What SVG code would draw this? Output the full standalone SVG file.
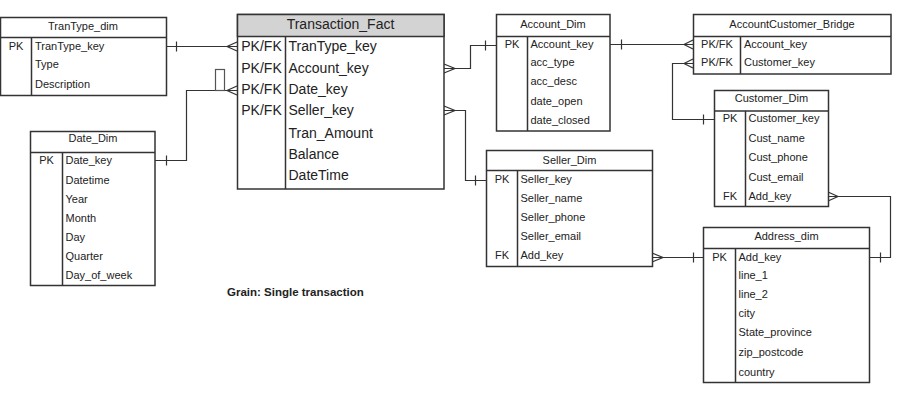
<svg xmlns="http://www.w3.org/2000/svg" width="898" height="403" viewBox="0 0 898 403">
<defs>
<style>
.box{fill:#fff;stroke:#333;stroke-width:1.5}
.hdr{fill:#d3d3d3;stroke:#333;stroke-width:1.5}
.ln{stroke:#333;stroke-width:1.5;fill:none}
.c{stroke:#333;stroke-width:1.2;fill:none}
.t{font-family:"Liberation Sans",Arial,sans-serif;font-size:11px;fill:#222}
.tb{font-family:"Liberation Sans",Arial,sans-serif;font-size:14px;fill:#222}
.m{text-anchor:middle}
.g{font-family:"Liberation Sans",Arial,sans-serif;font-size:11.5px;font-weight:bold;fill:#222}
</style>
</defs>
<rect width="898" height="403" fill="#fff"/>

<g id="connectors">
  <!-- TranType -> Fact -->
  <path class="c" d="M166 46.5 H237"/>
  <path class="c" d="M176.5 41.5 V51.5"/>
  <path class="c" d="M237 42 L227 46.5 L237 51"/>
  <!-- Date -> Fact -->
  <path class="c" d="M155 160.5 H186.5 V90.5 H237"/>
  <path class="c" d="M166.5 155.5 V165.5"/>
  <path class="c" d="M237 86 L227 90.5 L237 95"/>
  <rect x="215.5" y="69.5" width="9" height="21" fill="none" stroke="#555" stroke-width="1.2"/>
  <!-- Fact -> Account_Dim -->
  <path class="c" d="M444 68.5 H470.5 V45.5 H497"/>
  <path class="c" d="M444 64 L455 68.5 L444 73"/>
  <path class="c" d="M485.5 40.5 V50.5"/>
  <!-- Fact -> Seller_Dim -->
  <path class="c" d="M444 110.5 H465.5 V180.5 H486"/>
  <path class="c" d="M444 106 L455 110.5 L444 115"/>
  <path class="c" d="M475.5 175.5 V185.5"/>
  <!-- Account_Dim -> Bridge -->
  <path class="c" d="M610 44.5 H693"/>
  <path class="c" d="M621.5 39.5 V49.5"/>
  <path class="c" d="M693 40 L684 44.5 L693 49"/>
  <!-- Customer_Dim -> Bridge -->
  <path class="c" d="M714 119.5 H672.5 V63.5 H693"/>
  <path class="c" d="M703.5 114.5 V124.5"/>
  <path class="c" d="M693 59 L684 63.5 L693 68"/>
  <!-- Customer_Dim -> Address_dim -->
  <path class="c" d="M828 196.5 H890.5 V257.5 H870"/>
  <path class="c" d="M828 192 L838 196.5 L828 201"/>
  <path class="c" d="M880.5 252.5 V262.5"/>
  <!-- Seller_Dim -> Address_dim -->
  <path class="c" d="M652 257.5 H704"/>
  <path class="c" d="M652 253 L663 257.5 L652 262"/>
  <path class="c" d="M693.5 252.5 V262.5"/>
</g>

<g id="TranType_dim">
  <rect class="box" x="0.5" y="17.5" width="166" height="78"/>
  <path class="ln" d="M0.5 37.5 H166.5 M31.5 37.5 V95.5"/>
  <text class="t m" x="83" y="30">TranType_dim</text>
  <text class="t m" x="16" y="49.5">PK</text>
  <text class="t" x="35" y="49.5">TranType_key</text>
  <text class="t" x="35" y="68">Type</text>
  <text class="t" x="35" y="88">Description</text>
</g>

<g id="Transaction_Fact">
  <rect class="box" x="237.5" y="14.5" width="206.5" height="174.5"/>
  <rect class="hdr" x="237.5" y="14.5" width="206.5" height="22"/>
  <path class="ln" d="M285.5 36.5 V189"/>
  <text class="tb m" x="340.5" y="29.3">Transaction_Fact</text>
  <text class="tb m" x="261.5" y="50.7">PK/FK</text>
  <text class="tb m" x="261.5" y="72.7">PK/FK</text>
  <text class="tb m" x="261.5" y="94.3">PK/FK</text>
  <text class="tb m" x="261.5" y="115.3">PK/FK</text>
  <text class="tb" x="288.5" y="50.7">TranType_key</text>
  <text class="tb" x="288.5" y="72.7">Account_key</text>
  <text class="tb" x="288.5" y="94.3">Date_key</text>
  <text class="tb" x="288.5" y="115.3">Seller_key</text>
  <text class="tb" x="288.5" y="137.7">Tran_Amount</text>
  <text class="tb" x="288.5" y="159.3">Balance</text>
  <text class="tb" x="288.5" y="180">DateTime</text>
</g>

<g id="Account_Dim">
  <rect class="box" x="496.5" y="14.5" width="113.5" height="116.5"/>
  <path class="ln" d="M496.5 36.5 H610 M527.5 36.5 V131"/>
  <text class="t m" x="553" y="28">Account_Dim</text>
  <text class="t m" x="512" y="47.7">PK</text>
  <text class="t" x="530.5" y="47.7">Account_key</text>
  <text class="t" x="530.5" y="66.3">acc_type</text>
  <text class="t" x="530.5" y="85">acc_desc</text>
  <text class="t" x="530.5" y="104.7">date_open</text>
  <text class="t" x="530.5" y="124">date_closed</text>
</g>

<g id="AccountCustomer_Bridge">
  <rect class="box" x="693.5" y="14.5" width="197.5" height="59.5"/>
  <path class="ln" d="M693.5 36.5 H891 M740.5 36.5 V74"/>
  <text class="t m" x="792" y="28">AccountCustomer_Bridge</text>
  <text class="t m" x="717" y="47.7">PK/FK</text>
  <text class="t m" x="717" y="66.3">PK/FK</text>
  <text class="t" x="744" y="47.7">Account_key</text>
  <text class="t" x="744" y="66.3">Customer_key</text>
</g>

<g id="Customer_Dim">
  <rect class="box" x="714.5" y="90.5" width="114" height="116"/>
  <path class="ln" d="M714.5 111 H828.5 M745.5 111 V206.5"/>
  <text class="t m" x="771.5" y="102.3">Customer_Dim</text>
  <text class="t m" x="730" y="122.3">PK</text>
  <text class="t m" x="730" y="199.7">FK</text>
  <text class="t" x="748.5" y="122.3">Customer_key</text>
  <text class="t" x="748.5" y="142.3">Cust_name</text>
  <text class="t" x="748.5" y="161.3">Cust_phone</text>
  <text class="t" x="748.5" y="180.7">Cust_email</text>
  <text class="t" x="748.5" y="199.7">Add_key</text>
</g>

<g id="Seller_Dim">
  <rect class="box" x="486.5" y="150.5" width="166" height="116"/>
  <path class="ln" d="M486.5 170.5 H652.5 M517.5 170.5 V266.5"/>
  <text class="t m" x="569.5" y="164">Seller_Dim</text>
  <text class="t m" x="502" y="183.3">PK</text>
  <text class="t m" x="502" y="259">FK</text>
  <text class="t" x="520.5" y="183.3">Seller_key</text>
  <text class="t" x="520.5" y="202.3">Seller_name</text>
  <text class="t" x="520.5" y="221.3">Seller_phone</text>
  <text class="t" x="520.5" y="240">Seller_email</text>
  <text class="t" x="520.5" y="259">Add_key</text>
</g>

<g id="Address_dim">
  <rect class="box" x="703.5" y="227.5" width="166" height="155"/>
  <path class="ln" d="M703.5 248.5 H869.5 M735.5 248.5 V382.5"/>
  <text class="t m" x="786.5" y="240">Address_dim</text>
  <text class="t m" x="719.5" y="260.7">PK</text>
  <text class="t" x="738.5" y="260.7">Add_key</text>
  <text class="t" x="738.5" y="279">line_1</text>
  <text class="t" x="738.5" y="298.3">line_2</text>
  <text class="t" x="738.5" y="317.3">city</text>
  <text class="t" x="738.5" y="336.3">State_province</text>
  <text class="t" x="738.5" y="356.3">zip_postcode</text>
  <text class="t" x="738.5" y="375.7">country</text>
</g>

<g id="Date_Dim">
  <rect class="box" x="30.5" y="131.5" width="124.5" height="154"/>
  <path class="ln" d="M30.5 152.5 H155 M62.5 152.5 V285.5"/>
  <text class="t m" x="93" y="142.3">Date_Dim</text>
  <text class="t m" x="46.5" y="164">PK</text>
  <text class="t" x="65.5" y="164">Date_key</text>
  <text class="t" x="65.5" y="184">Datetime</text>
  <text class="t" x="65.5" y="203">Year</text>
  <text class="t" x="65.5" y="221.7">Month</text>
  <text class="t" x="65.5" y="240.7">Day</text>
  <text class="t" x="65.5" y="260">Quarter</text>
  <text class="t" x="65.5" y="279">Day_of_week</text>
</g>

<text class="g" x="227" y="296">Grain: Single transaction</text>
</svg>
